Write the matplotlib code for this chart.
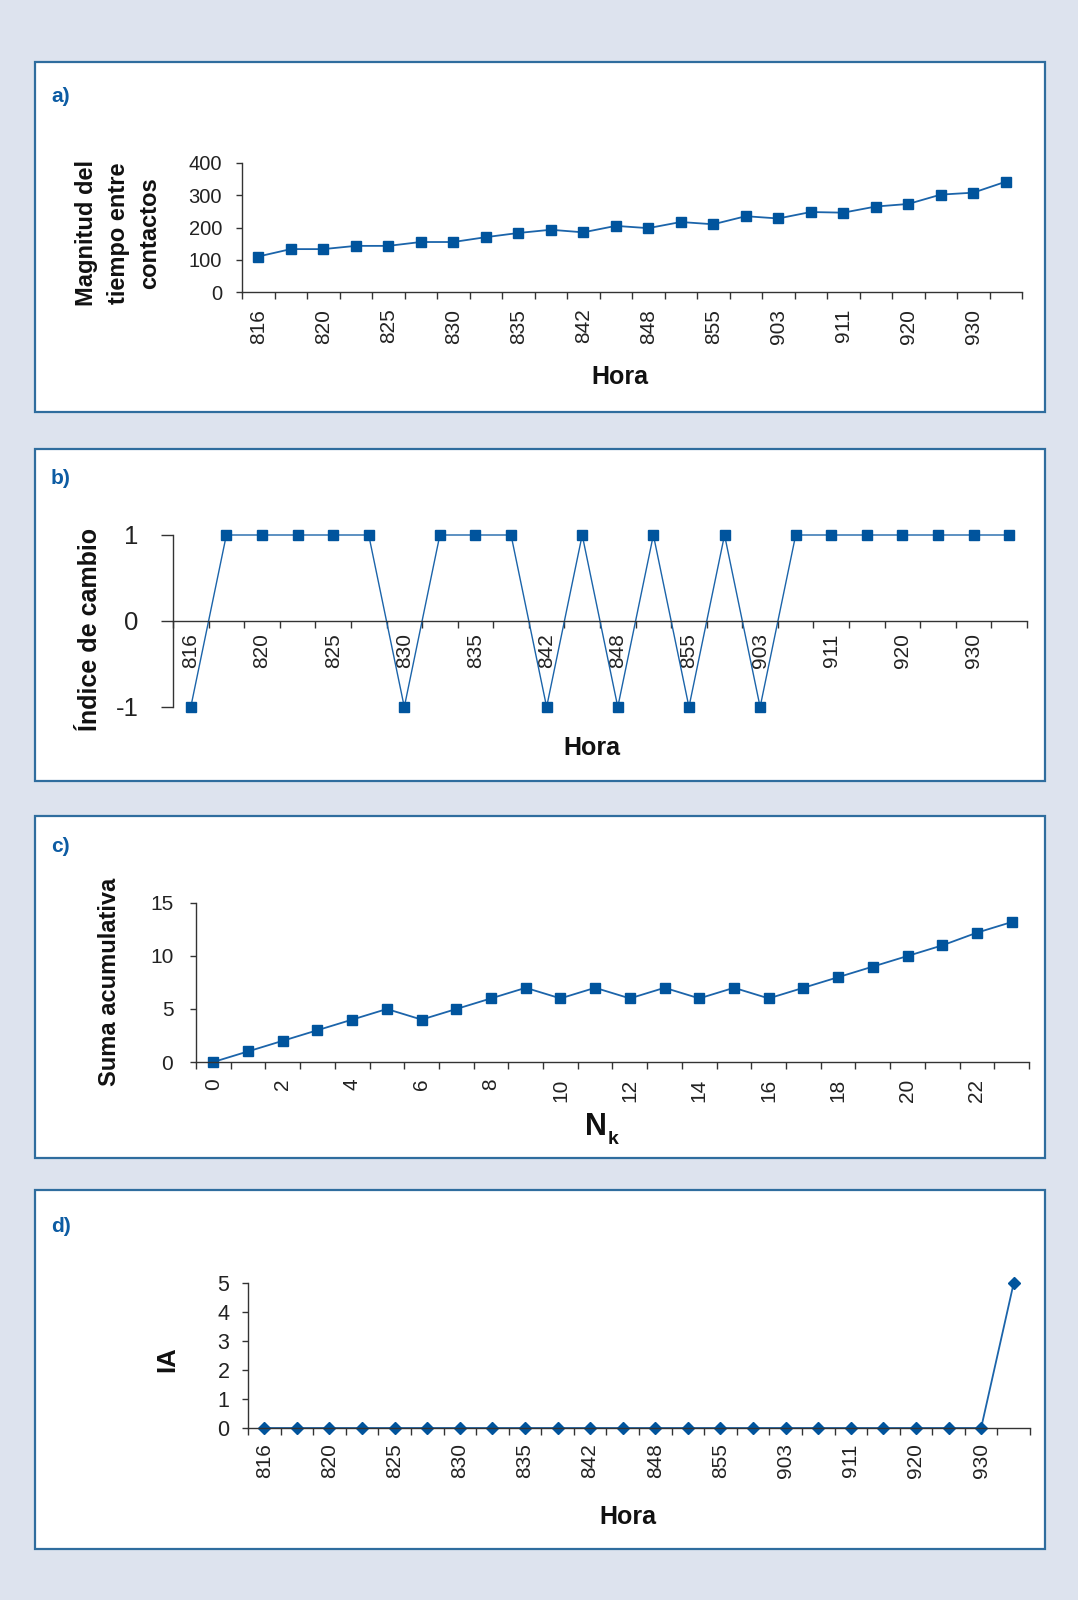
import matplotlib.pyplot as plt
from matplotlib.patches import Rectangle
import numpy as np

plt.rcParams['font.family'] = ['Liberation Sans', 'DejaVu Sans']
plt.rcParams['axes.unicode_minus'] = False

# ---------------- data ----------------
hora_labels = ['816', '820', '825', '830', '835', '842', '848', '855', '903', '911', '920', '930']
nk_labels = ['0', '2', '4', '6', '8', '10', '12', '14', '16', '18', '20', '22']

tiempo = [110, 133, 133, 143, 143, 155, 155, 170, 183, 193, 185, 205,
          198, 217, 210, 235, 228, 248, 246, 265, 273, 302, 308, 342]
indice = [-1, 1, 1, 1, 1, 1, -1, 1, 1, 1, -1, 1,
          -1, 1, -1, 1, -1, 1, 1, 1, 1, 1, 1, 1]
suma = [0, 1, 2, 3, 4, 5, 4, 5, 6, 7, 6, 7,
        6, 7, 6, 7, 6, 7, 8, 9, 10, 11, 12.2, 13.2]
ia = [0, 0, 0, 0, 0, 0, 0, 0, 0, 0, 0, 0,
      0, 0, 0, 0, 0, 0, 0, 0, 0, 0, 0, 5]

# ---------------- style ----------------
W, H = 1078, 1600
BG = '#dde3ee'
BORDER = '#2f6d9e'
LABEL_BLUE = '#0d5ca3'
LINE = '#1b64aa'
MARK = '#00549d'
AXC = '#333333'

fig = plt.figure(figsize=(W / 100, H / 100), dpi=100, facecolor=BG)


def px_axes(left, top, right, bottom):
    return fig.add_axes([left / W, 1 - bottom / H, (right - left) / W, (bottom - top) / H])


def ftext(x, y, s, **kw):
    fig.text(x / W, 1 - y / H, s, **kw)


# white panels with blue frame
panels = [(62, 412), (449, 781), (816, 1158), (1190, 1549)]
for top, bottom in panels:
    fig.add_artist(Rectangle((35 / W, 1 - bottom / H), 1010 / W, (bottom - top) / H,
                             transform=fig.transFigure, facecolor='white',
                             edgecolor=BORDER, lw=1.6, zorder=0))


def style(ax, n, xlabels, ylim, yticks, ysize, ypad, xpad, ylen=4.3):
    ax.patch.set_alpha(0)
    ax.set_xlim(-0.5, n - 0.5)
    ax.set_ylim(*ylim)
    for s in ['top', 'right']:
        ax.spines[s].set_visible(False)
    for s in ['left', 'bottom']:
        ax.spines[s].set_color(AXC)
        ax.spines[s].set_linewidth(1.0)
    # ticks between categories, labels on every other category centre
    ax.set_xticks(np.arange(-0.5, n, 1.0))
    ax.set_xticklabels([])
    ax.set_xticks(np.arange(0, n, 2), minor=True)
    ax.set_xticklabels(xlabels, minor=True, rotation=90)
    ax.tick_params(axis='x', which='major', length=5, width=1.0, color=AXC, direction='out')
    ax.tick_params(axis='x', which='minor', length=0, pad=xpad, labelsize=15, labelcolor='#222222')
    ax.set_yticks(yticks)
    ax.tick_params(axis='y', length=ylen, width=1.0, color=AXC, pad=ypad,
                   labelsize=ysize, labelcolor='#222222')


n = len(tiempo)
x = np.arange(n)

# a) magnitud del tiempo entre contactos
ax = px_axes(242, 163, 1022, 292)
ax.plot(x, tiempo, color=LINE, lw=1.3, marker='s', ms=6.8, mfc=MARK, mec=MARK, clip_on=False)
style(ax, n, hora_labels, (0, 400), [0, 100, 200, 300, 400], 14.5, 10, 12)

# b) indice de cambio
ax = px_axes(173, 535, 1027, 707)
ax.spines['bottom'].set_position(('data', 0))
ax.plot(x, indice, color=LINE, lw=1.0, marker='s', ms=7.8, mfc=MARK, mec=MARK, clip_on=False)
style(ax, n, hora_labels, (-1, 1), [-1, 0, 1], 18.5, 16, 9, ylen=9)

# c) suma acumulativa
ax = px_axes(196, 903, 1029, 1062)
ax.plot(x, suma, color=LINE, lw=1.3, marker='s', ms=6.8, mfc=MARK, mec=MARK, clip_on=False)
style(ax, n, nk_labels, (0, 15), [0, 5, 10, 15], 15, 12, 12)

# d) IA
ax = px_axes(248, 1283, 1030, 1428)
ax.plot(x, ia, color=LINE, lw=1.3, marker='D', ms=5.8, mfc=MARK, mec=MARK, clip_on=False)
style(ax, n, hora_labels, (0, 5), [0, 1, 2, 3, 4, 5], 15.5, 9, 11)

# axis titles
ftext(118, 233, 'Magnitud del\ntiempo entre\ncontactos', rotation=90, ha='center', va='center',
      fontsize=17, fontweight='bold', linespacing=1.5, color='#111111')
ftext(90, 629, 'Índice de cambio', rotation=90, ha='center', va='center',
      fontsize=18, fontweight='bold', color='#111111')
ftext(109, 982, 'Suma acumulativa', rotation=90, ha='center', va='center',
      fontsize=17, fontweight='bold', color='#111111')
ftext(167, 1359, 'IA', rotation=90, ha='center', va='center',
      fontsize=18.5, fontweight='bold', color='#111111')

ftext(620, 377, 'Hora', ha='center', va='center', fontsize=18, fontweight='bold', color='#111111')
ftext(592, 748, 'Hora', ha='center', va='center', fontsize=18, fontweight='bold', color='#111111')
ftext(628, 1517, 'Hora', ha='center', va='center', fontsize=18, fontweight='bold', color='#111111')
ftext(596, 1127, 'N', ha='center', va='center', fontsize=22, fontweight='bold', color='#111111')
ftext(613, 1140, 'k', ha='center', va='center', fontsize=14, fontweight='bold', color='#111111')

# panel letters
for lab, yc in zip(['a)', 'b)', 'c)', 'd)'], [97, 478, 846, 1227]):
    ftext(51, yc, lab, ha='left', va='center', fontsize=15, fontweight='bold', color=LABEL_BLUE)

fig.savefig('out.png', dpi=100, facecolor=BG)
